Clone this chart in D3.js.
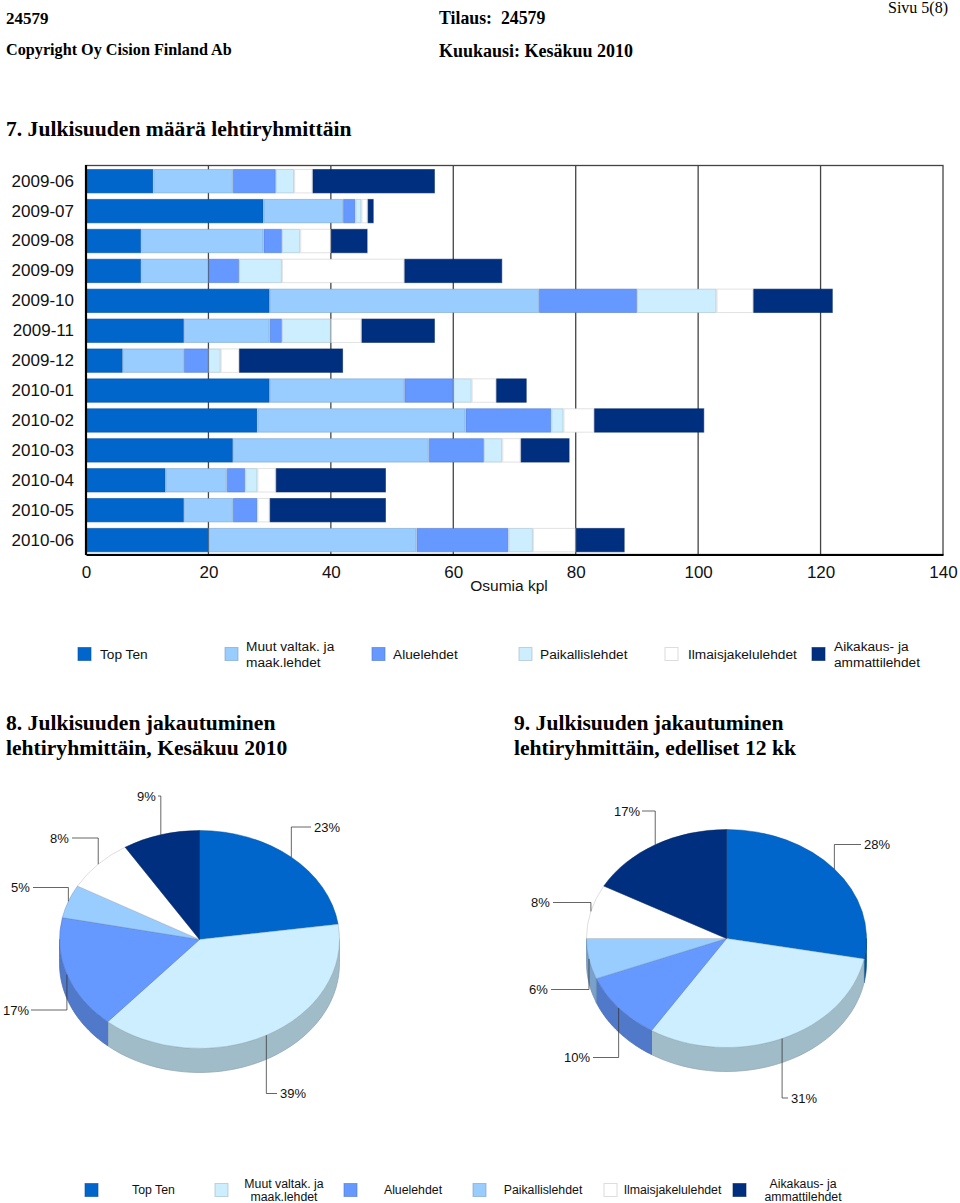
<!DOCTYPE html>
<html>
<head>
<meta charset="utf-8">
<script src="https://cdn.jsdelivr.net/npm/d3@7"></script>
<style>
  html, body { margin: 0; padding: 0; background: #fff; }
  svg { display: block; }
  .serif { font-family: "Liberation Serif", serif; fill: #000; white-space: pre; }
  .sans { font-family: "Liberation Sans", Arial, sans-serif; fill: #111; }
</style>
</head>
<body>
<div id="chart"></div>
<script>
// bar chart data
const months = ['2009-06','2009-07','2009-08','2009-09','2009-10','2009-11','2009-12',
                '2010-01','2010-02','2010-03','2010-04','2010-05','2010-06'];
const topTen     = [11,29, 9, 9,30,16, 6,30,28,24,13,16,20];
const muutValtak = [13,13,20,11,44,14,10,22,34,32,10, 8,34];
const aluelehdet = [ 7, 2, 3, 5,16, 2, 4, 8,14, 9, 3, 4,15];
const paikallis  = [ 3, 1, 3, 7,13, 8, 2, 3, 2, 3, 2, 0, 4];
const ilmaisjak  = [ 3, 1, 5,20, 6, 5, 3, 4, 5, 3, 3, 2, 7];
const aikakaus   = [20, 1, 6,16,13,12,17, 5,18, 8,18,19, 8];
const barSeries = [topTen, muutValtak, aluelehdet, paikallis, ilmaisjak, aikakaus];
const xTicks = [0,20,40,60,80,100,120,140];

// pie data
const pie8Values = [23,39,17,5,8,9];
const pie9Values = [28,31,10,6,8,17];

const legendNames = ['Top Ten', ['Muut valtak. ja','maak.lehdet'], 'Aluelehdet',
                     'Paikallislehdet', 'Ilmaisjakelulehdet', ['Aikakaus- ja','ammattilehdet']];

// colours, the two charts swap the two light blues
const blue = '#0066cc', sky = '#99ccff', mid = '#6699ff', pale = '#cceeff', white = '#ffffff', navy = '#002f7f';
const barColors = [blue, sky, mid, pale, white, navy];
const pieColors = [blue, pale, mid, sky, white, navy];

const svg = d3.select('#chart').append('svg').attr('width', 960).attr('height', 1203);

// page texts
function pageText(x, y, str, size, bold, anchor) {
  svg.append('text').attr('class', 'serif').attr('x', x).attr('y', y)
    .attr('font-size', size).attr('font-weight', bold ? 'bold' : 'normal')
    .attr('text-anchor', anchor || 'start').text(str);
}
pageText(6, 24, '24579', 17, true);
pageText(439, 24, 'Tilaus:  24579', 17.8, true);
pageText(948, 12.5, 'Sivu 5(8)', 16, false, 'end');
pageText(6, 55, 'Copyright Oy Cision Finland Ab', 16.2, true);
pageText(439, 57, 'Kuukausi: Kesäkuu 2010', 18, true);
pageText(6, 136, '7. Julkisuuden määrä lehtiryhmittäin', 21.6, true);
pageText(6, 729.5, '8. Julkisuuden jakautuminen', 21.6, true);
pageText(6, 755, 'lehtiryhmittäin, Kesäkuu 2010', 21.6, true);
pageText(514, 729.5, '9. Julkisuuden jakautuminen', 21.6, true);
pageText(514, 755, 'lehtiryhmittäin, edelliset 12 kk', 21.6, true);

// stacked bars
const x = d3.scaleLinear().domain([0, 140]).range([86, 943]);
const y = d3.scaleBand().domain(months).range([169, 552.3]).paddingInner(0.184).paddingOuter(0);

const plot = svg.append('g');
plot.append('rect').attr('x', x(0)).attr('y', 165.5).attr('width', x(140) - x(0)).attr('height', 389)
  .attr('fill', 'none').attr('stroke', '#444').attr('stroke-width', 1.3);
plot.selectAll('line.grid').data(xTicks.slice(1, -1)).join('line')
  .attr('class', 'grid')
  .attr('x1', d => x(d)).attr('x2', d => x(d)).attr('y1', 165.5).attr('y2', 554.5)
  .attr('stroke', '#444').attr('stroke-width', 1.3);

const rows = months.map((m, i) => barSeries.map(s => s[i]));
const stack = d3.stack().keys(d3.range(6)).value((row, k) => row[k]);
stack(rows).forEach((layer, k) => {
  plot.append('g').selectAll('rect').data(layer).join('rect')
    .attr('x', d => x(d[0]) + 0.5)
    .attr('y', (d, i) => y(months[i]) + 0.5)
    .attr('width', d => Math.max(0, x(d[1]) - x(d[0]) - 1))
    .attr('height', y.bandwidth() - 1)
    .attr('fill', barColors[k])
    .attr('stroke', d3.color(barColors[k]).darker(0.6))
    .attr('stroke-opacity', 0.6)
    .attr('display', d => d[1] > d[0] ? null : 'none');
});

const xAxis = svg.append('g').attr('transform', 'translate(0,554.5)')
  .call(d3.axisBottom(x).tickValues(xTicks).tickSize(0).tickPadding(11));
xAxis.select('.domain').attr('stroke', '#000').attr('stroke-width', 2.2);
xAxis.selectAll('text').attr('class', 'sans').attr('font-size', 17).attr('font-family', null);

const yAxis = svg.append('g').attr('transform', 'translate(86,0)')
  .call(d3.axisLeft(y).tickSize(0).tickPadding(12));
yAxis.select('.domain').remove();
yAxis.selectAll('text').attr('class', 'sans').attr('font-size', 17).attr('font-family', null);
svg.append('line').attr('x1', x(0)).attr('x2', x(0)).attr('y1', 165).attr('y2', 555)
  .attr('stroke', '#000').attr('stroke-width', 2.2);

svg.append('text').attr('class', 'sans').attr('x', 509).attr('y', 591)
  .attr('text-anchor', 'middle').attr('font-size', 15.5).text('Osumia kpl');

// legends
function drawLegend(colors, swatchX, textX, anchor, cy, size, lineGap) {
  legendNames.forEach((name, i) => {
    svg.append('rect').attr('x', swatchX[i]).attr('y', cy - 6.5).attr('width', 13).attr('height', 13)
      .attr('fill', colors[i]).attr('stroke', d3.color(colors[i]).darker(0.7)).attr('stroke-opacity', 0.6);
    const lines = Array.isArray(name) ? name : [name];
    lines.forEach((line, j) => {
      svg.append('text').attr('class', 'sans').attr('x', textX[i])
        .attr('y', cy + (j - (lines.length - 1) / 2) * lineGap + size * 0.36)
        .attr('text-anchor', anchor).attr('font-size', size).text(line);
    });
  });
}
drawLegend(barColors, [78, 225, 372, 519, 665, 812], [100, 246, 393, 540, 688, 834], 'start', 654, 13.7, 15.5);
drawLegend(pieColors, [85, 215, 344, 473, 604, 733], [153.5, 284, 413, 543, 672.5, 803], 'middle', 1190, 12.3, 13);

// 3D looking pies: circular arcs squashed to an ellipse, wall shifted down
function drawPie(values, cx, cy, leaders) {
  const rx = 140, ry = 109, depth = 24;
  const arcs = d3.pie().sort(null).startAngle(0).endAngle(2 * Math.PI)(values);
  const g = svg.append('g');
  const pt = a => [cx + rx * Math.sin(a), cy - ry * Math.cos(a)];

  // wall, only the front half (90..270 degrees clockwise from top) shows
  arcs.forEach((d, i) => {
    const a0 = Math.max(d.startAngle, Math.PI / 2), a1 = Math.min(d.endAngle, 3 * Math.PI / 2);
    if (a1 <= a0) return;
    const top = d3.range(0, 41).map(t => pt(a0 + (a1 - a0) * t / 40));
    const bottom = top.slice().reverse().map(p => [p[0], p[1] + depth]);
    const c = d3.rgb(pieColors[i]);
    const wall = d3.rgb(c.r * 0.79, c.g * 0.79, c.b * 0.79);
    g.append('path').attr('d', d3.line()(top.concat(bottom)) + 'Z')
      .attr('fill', wall).attr('stroke', wall.darker(0.4)).attr('stroke-width', 0.7);
  });

  const arc = d3.arc().innerRadius(0).outerRadius(rx);
  g.append('g').attr('transform', `translate(${cx},${cy}) scale(1,${ry / rx})`)
    .selectAll('path').data(arcs).join('path')
    .attr('d', arc)
    .attr('fill', (d, i) => pieColors[i])
    .attr('stroke', (d, i) => d3.color(pieColors[i]).darker(0.9))
    .attr('stroke-opacity', 0.6)
    .attr('stroke-width', 0.8)
    .attr('vector-effect', 'non-scaling-stroke');

  // leader lines start at the slice middle on the rim
  arcs.forEach((d, i) => {
    const p = pt((d.startAngle + d.endAngle) / 2);
    const l = leaders[i];
    g.append('path').attr('d', d3.line()([p, [p[0], l.elbowY], [l.endX, l.elbowY]]))
      .attr('fill', 'none').attr('stroke', '#333').attr('stroke-opacity', 0.75).attr('stroke-width', 1);
    g.append('text').attr('class', 'sans').attr('x', l.textX).attr('y', l.elbowY + 4.7)
      .attr('font-size', 13).text(values[i] + '%');
  });
}

drawPie(pie8Values, 199.5, 939.5, [
  { elbowY: 827, endX: 311, textX: 314 },
  { elbowY: 1093.5, endX: 277, textX: 280 },
  { elbowY: 1010, endX: 31, textX: 3 },
  { elbowY: 887.5, endX: 33, textX: 11 },
  { elbowY: 838, endX: 72, textX: 50 },
  { elbowY: 796, endX: 158, textX: 137 }
]);
drawPie(pie9Values, 726.5, 938.5, [
  { elbowY: 844.5, endX: 861, textX: 864 },
  { elbowY: 1098, endX: 788, textX: 791 },
  { elbowY: 1057.5, endX: 593, textX: 564 },
  { elbowY: 989.5, endX: 551, textX: 529 },
  { elbowY: 902.5, endX: 553, textX: 531 },
  { elbowY: 811, endX: 642, textX: 614 }
]);
</script>
</body>
</html>
